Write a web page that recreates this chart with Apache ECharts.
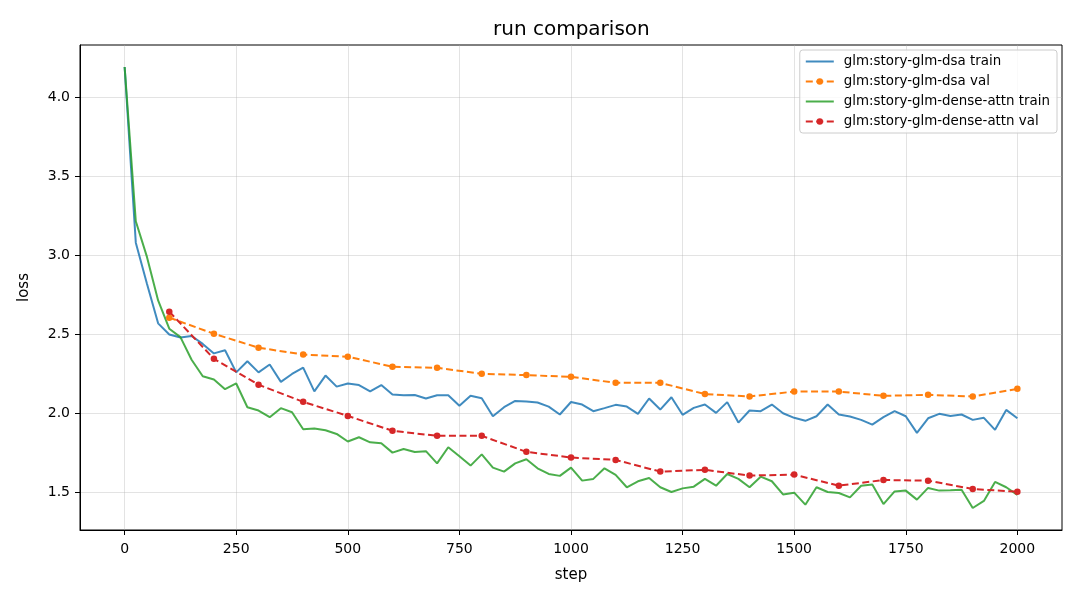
<!DOCTYPE html>
<html>
<head>
<meta charset="utf-8">
<script src="https://cdn.jsdelivr.net/npm/echarts@6/dist/echarts.min.js"></script>
<style>
  html, body { margin: 0; padding: 0; background: #fff; }
  #chart { width: 1080px; height: 600px; }
</style>
</head>
<body>
<div id="chart"></div>
<script>
const seriesNames = [
  'glm:story-glm-dsa train',
  'glm:story-glm-dsa val',
  'glm:story-glm-dense-attn train',
  'glm:story-glm-dense-attn val'
]

const trainSteps = [
  0, 25, 50, 75, 100, 125, 150, 175, 200, 225, 250, 275, 300, 325, 350, 375,
  400, 425, 450, 475, 500, 525, 550, 575, 600, 625, 650, 675, 700, 725, 750, 775,
  800, 825, 850, 875, 900, 925, 950, 975, 1000, 1025, 1050, 1075, 1100, 1125, 1150, 1175,
  1200, 1225, 1250, 1275, 1300, 1325, 1350, 1375, 1400, 1425, 1450, 1475, 1500, 1525, 1550, 1575,
  1600, 1625, 1650, 1675, 1700, 1725, 1750, 1775, 1800, 1825, 1850, 1875, 1900, 1925, 1950, 1975, 2000
]

const valSteps = [
  100, 200, 300, 400, 500, 600, 700, 800, 900, 1000,
  1100, 1200, 1300, 1400, 1500, 1600, 1700, 1800, 1900, 2000
]

const dsaTrain = [
  4.19, 3.08, 2.82, 2.57, 2.50, 2.48, 2.49, 2.44, 2.38, 2.40, 2.26, 2.33, 2.26, 2.31, 2.20, 2.25,
  2.29, 2.14, 2.24, 2.17, 2.19, 2.18, 2.14, 2.18, 2.12, 2.115, 2.117, 2.095, 2.116, 2.116, 2.049, 2.112,
  2.097, 1.983, 2.04, 2.08, 2.076, 2.07, 2.044, 1.994, 2.073, 2.057, 2.015, 2.034, 2.055, 2.044, 1.998, 2.095,
  2.025, 2.103, 1.992, 2.036, 2.057, 2.004, 2.072, 1.943, 2.019, 2.015, 2.057, 2.002, 1.973, 1.954, 1.983, 2.057,
  1.994, 1.981, 1.96, 1.93, 1.977, 2.015, 1.983, 1.878, 1.97, 1.998, 1.985, 1.994, 1.96, 1.973, 1.897, 2.023, 1.97
]

const dsaVal = [
  2.606, 2.504, 2.416, 2.373, 2.359, 2.296, 2.289, 2.251, 2.243, 2.232,
  2.194, 2.194, 2.123, 2.108, 2.139, 2.139, 2.112, 2.118, 2.108, 2.156
]

const denseTrain = [
  4.19, 3.215, 2.99, 2.715, 2.536, 2.483, 2.34, 2.236, 2.215, 2.154, 2.19, 2.04, 2.019, 1.977, 2.034, 2.008,
  1.901, 1.905, 1.894, 1.871, 1.823, 1.85, 1.818, 1.812, 1.753, 1.776, 1.757, 1.762, 1.685, 1.787, 1.73, 1.671,
  1.742, 1.658, 1.633, 1.685, 1.711, 1.654, 1.618, 1.606, 1.658, 1.576, 1.587, 1.654, 1.612, 1.534, 1.572, 1.593,
  1.534, 1.504, 1.527, 1.538, 1.587, 1.544, 1.618, 1.587, 1.534, 1.601, 1.572, 1.489, 1.5, 1.424, 1.534, 1.504,
  1.498, 1.47, 1.544, 1.551, 1.428, 1.508, 1.513, 1.456, 1.53, 1.513, 1.515, 1.519, 1.403, 1.448, 1.568, 1.534, 1.486
]

const denseVal = [
  2.644, 2.346, 2.182, 2.074, 1.985, 1.891, 1.859, 1.859, 1.758, 1.722,
  1.707, 1.633, 1.644, 1.608, 1.614, 1.544, 1.58, 1.576, 1.523, 1.506
]

const xTicks = [0, 250, 500, 750, 1000, 1250, 1500, 1750, 2000]
const yTicks = [1.5, 2.0, 2.5, 3.0, 3.5, 4.0]

const colors = ['#1f77b4', '#ff7f0e', '#2ca02c', '#d62728']
const font = 'DejaVu Sans'

const pairs = (xs, ys) => xs.map((x, i) => [x, ys[i]])

const trainLine = (name, color, data) => ({
  name,
  type: 'line',
  data,
  showSymbol: false,
  symbol: 'none',
  animation: false,
  lineStyle: { color, width: 2, opacity: 0.85 },
  itemStyle: { color, opacity: 0.85 }
})

const valLine = (name, color, data) => ({
  name,
  type: 'line',
  data,
  symbol: 'circle',
  symbolSize: 6.5,
  animation: false,
  lineStyle: { color, width: 2, type: [7, 3.5] },
  itemStyle: { color }
})

const axisCommon = {
  type: 'value',
  axisLine: { show: true, onZero: false, lineStyle: { color: '#000', width: 1 } },
  axisTick: { show: true, inside: false, length: 5, lineStyle: { color: '#000' } },
  axisLabel: { color: '#000', fontFamily: font, fontSize: 14 },
  splitLine: { show: true, lineStyle: { color: 'rgba(176,176,176,0.35)', width: 1 } },
  nameTextStyle: { color: '#000', fontFamily: font, fontSize: 15 }
}

const chart = echarts.init(document.getElementById('chart'), null, { renderer: 'canvas' })

chart.setOption({
  animation: false,
  backgroundColor: '#fff',
  title: {
    text: 'run comparison',
    left: 488,
    top: 15,
    textStyle: { fontFamily: font, fontSize: 20, fontWeight: 'normal', color: '#000' }
  },
  grid: {
    left: 80, right: 18, top: 45, bottom: 70,
    show: true, borderColor: '#000', borderWidth: 1, backgroundColor: 'transparent'
  },
  legend: {
    data: [
      { name: seriesNames[0], itemStyle: { opacity: 0 } },
      { name: seriesNames[1] },
      { name: seriesNames[2], itemStyle: { opacity: 0 } },
      { name: seriesNames[3] }
    ],
    orient: 'vertical',
    right: 23,
    top: 50,
    itemWidth: 28,
    itemHeight: 8,
    itemGap: 7,
    padding: [5, 7, 5, 5],
    backgroundColor: 'rgba(255,255,255,0.8)',
    borderColor: '#cccccc',
    borderWidth: 1,
    borderRadius: 3,
    textStyle: { fontFamily: font, fontSize: 13.4, color: '#000', padding: [0, 0, 0, 5] }
  },
  xAxis: {
    ...axisCommon,
    min: -100,
    max: 2100,
    name: 'step',
    nameLocation: 'middle',
    nameGap: 38,
    axisTick: { ...axisCommon.axisTick, customValues: xTicks },
    axisLabel: {
      ...axisCommon.axisLabel,
      customValues: xTicks,
      margin: 12,
      formatter: (v) => String(v)
    }
  },
  yAxis: {
    ...axisCommon,
    min: 1.264,
    max: 4.329,
    name: 'loss',
    nameLocation: 'middle',
    nameGap: 48,
    axisTick: { ...axisCommon.axisTick, customValues: yTicks },
    axisLabel: {
      ...axisCommon.axisLabel,
      customValues: yTicks,
      margin: 10,
      formatter: (v) => v.toFixed(1)
    }
  },
  series: [
    trainLine(seriesNames[0], colors[0], pairs(trainSteps, dsaTrain)),
    valLine(seriesNames[1], colors[1], pairs(valSteps, dsaVal)),
    trainLine(seriesNames[2], colors[2], pairs(trainSteps, denseTrain)),
    valLine(seriesNames[3], colors[3], pairs(valSteps, denseVal))
  ]
})
</script>
</body>
</html>
